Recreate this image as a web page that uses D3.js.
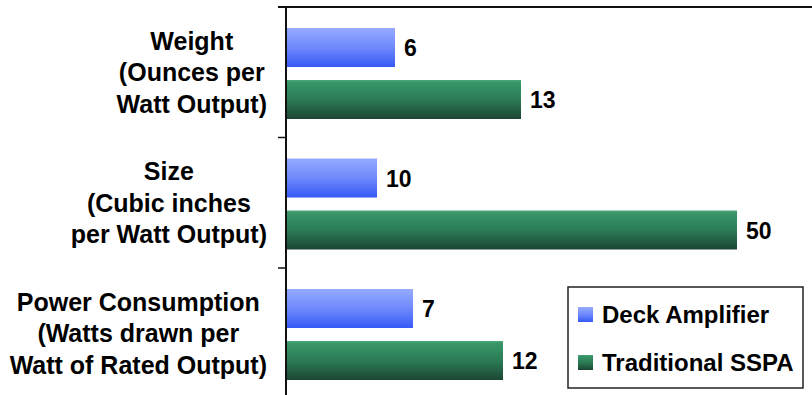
<!DOCTYPE html>
<html>
<head>
<meta charset="utf-8">
<script src="https://d3js.org/d3.v7.min.js"></script>
<style>
  body { margin: 0; background: #fff; }
  svg { display: block; font-family: "Liberation Sans", Arial, sans-serif; font-weight: bold; }
</style>
</head>
<body>
<svg></svg>
<script>
// Data
var categories = ["Weight", "Size", "Power Consumption"];
var categoryLines = [
  ["Weight", "(Ounces per", "Watt Output)"],
  ["Size", "(Cubic inches", "per Watt Output)"],
  ["Power Consumption", "(Watts drawn per", "Watt of Rated Output)"]
];
var seriesNames = ["Deck Amplifier", "Traditional SSPA"];
var deckValues = [6, 10, 7];
var sspaValues = [13, 50, 12];
// the source slide draws the Size row at half scale
var rowScale = [1, 0.5, 1];

var width = 812, height = 395;
var svg = d3.select('svg').attr('width', width).attr('height', height);

// Gradients
var defs = svg.append('defs');
function grad(id, stops) {
  var g = defs.append('linearGradient').attr('id', id)
    .attr('x1', 0).attr('y1', 0).attr('x2', 0).attr('y2', 1);
  stops.forEach(function (s) {
    g.append('stop').attr('offset', s[0]).attr('stop-color', s[1]);
  });
}
grad('blueGrad', [[0, '#95aaff'], [0.5, '#6f89fc'], [1, '#3659f6']]);
grad('greenGrad', [[0, '#4aa878'], [0.06, '#389669'], [0.5, '#2b7c55'], [1, '#1c4533']]);
var fills = ['url(#blueGrad)', 'url(#greenGrad)'];

// Scales
var x = d3.scaleLinear().domain([0, 25]).range([287, 737]);
var y0 = d3.scaleBand().domain(categories).range([7, 398.5]);
var y1 = d3.scaleBand().domain(seriesNames).range([21, 112]).paddingInner(0.25);

var rows = categories.map(function (c, i) {
  return { cat: c, i: i, vals: [deckValues[i], sspaValues[i]] };
});

// Bars
var groups = svg.selectAll('g.row')
  .data(rows)
  .enter().append('g')
  .attr('class', 'row')
  .attr('transform', function (d) { return 'translate(0,' + y0(d.cat) + ')'; });

groups.selectAll('rect')
  .data(function (d) {
    return d.vals.map(function (v, j) { return { v: v, s: seriesNames[j], j: j, k: rowScale[d.i] }; });
  })
  .enter().append('rect')
  .attr('x', x(0))
  .attr('y', function (d) { return y1(d.s); })
  .attr('width', function (d) { return x(d.v * d.k) - x(0); })
  .attr('height', y1.bandwidth())
  .style('fill', function (d) { return fills[d.j]; });

// Value labels
groups.selectAll('text.val')
  .data(function (d) {
    return d.vals.map(function (v, j) { return { v: v, s: seriesNames[j], k: rowScale[d.i] }; });
  })
  .enter().append('text')
  .attr('class', 'val')
  .attr('x', function (d) { return x(d.v * d.k) + 9; })
  .attr('y', function (d) { return y1(d.s) + y1.bandwidth() / 2 + 8.5; })
  .style('font-size', '23px')
  .style('fill', '#000')
  .text(function (d) { return d.v; });

// Axis lines
svg.append('line')
  .attr('x1', 278).attr('x2', width).attr('y1', 7).attr('y2', 7)
  .style('stroke', '#111').style('stroke-width', 2);
svg.append('line')
  .attr('x1', 286).attr('x2', 286).attr('y1', 6).attr('y2', height)
  .style('stroke', '#111').style('stroke-width', 2);
var tickYs = categories.map(function (c) { return y0(c); });
svg.selectAll('line.tick')
  .data(tickYs)
  .enter().append('line')
  .attr('class', 'tick')
  .attr('x1', 278).attr('x2', 286)
  .attr('y1', function (d) { return d; }).attr('y2', function (d) { return d; })
  .style('stroke', '#111').style('stroke-width', 1.5);

// Category labels: lines centred, block right-aligned
rows.forEach(function (r) {
  var mid = y0(r.cat) + y0.bandwidth() / 2 + 9;
  var texts = categoryLines[r.i].map(function (line, k) {
    return svg.append('text')
      .attr('y', mid + (k - 1) * 31.5)
      .attr('text-anchor', 'middle')
      .style('font-size', '25px')
      .style('fill', '#000')
      .text(line);
  });
  var maxW = d3.max(texts, function (t) { return t.node().getComputedTextLength(); });
  texts.forEach(function (t) { t.attr('x', 267 - maxW / 2); });
});

// Legend
var legend = svg.append('g');
legend.append('rect')
  .attr('x', 568).attr('y', 287).attr('width', 235).attr('height', 101)
  .style('fill', '#fff').style('stroke', '#222').style('stroke-width', 1.5);
var items = legend.selectAll('g.item')
  .data(seriesNames)
  .enter().append('g')
  .attr('class', 'item')
  .attr('transform', function (d, i) { return 'translate(0,' + (i * 48) + ')'; });
items.append('rect')
  .attr('x', 578).attr('y', 307).attr('width', 15).attr('height', 15)
  .style('fill', function (d, i) { return fills[i]; });
items.append('text')
  .attr('x', 602).attr('y', 323)
  .style('font-size', '24px')
  .style('fill', '#000')
  .text(function (d) { return d; });
</script>
</body>
</html>
